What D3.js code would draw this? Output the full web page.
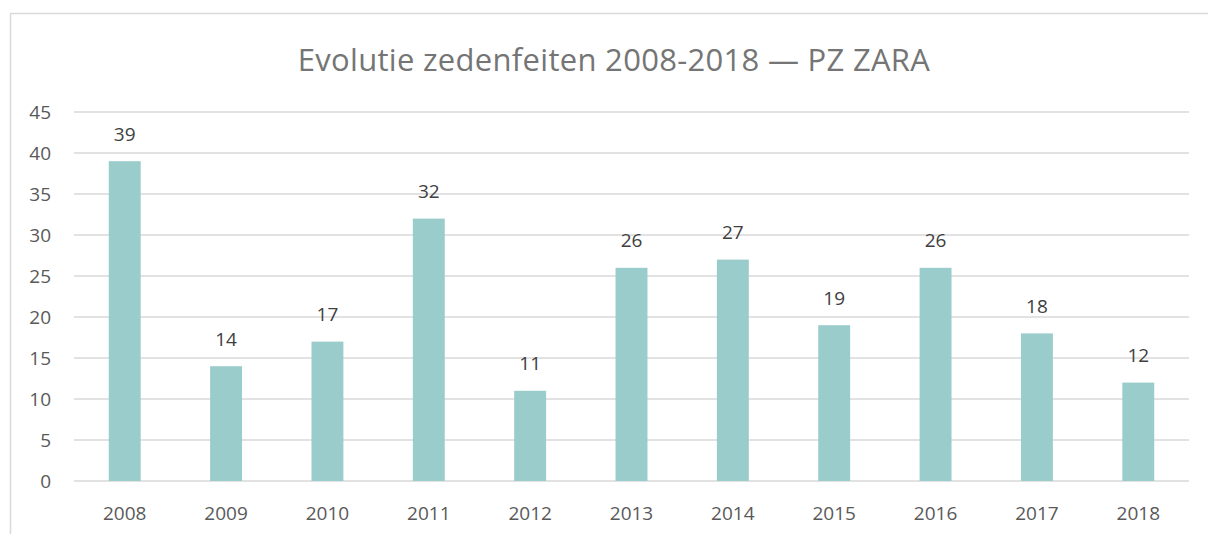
<!DOCTYPE html>
<style>
    body { margin: 0; background: #fff; }
    text { font-family: "Open Sans", sans-serif; }
    .tick text { font-size: 19px; fill: #595959; }
    .value { font-size: 19px; fill: #404040; }
    .title { font-size: 31px; fill: #757575; letter-spacing: 0.3px; }
</style>
<svg width="1208" height="534"></svg>
<script src="https://d3js.org/d3.v7.min.js"></script>
<script>
    var years = ["2008", "2009", "2010", "2011", "2012", "2013", "2014", "2015", "2016", "2017", "2018"];
    var counts = [39, 14, 17, 32, 11, 26, 27, 19, 26, 18, 12];
    var yTicks = [0, 5, 10, 15, 20, 25, 30, 35, 40, 45];

    var svg = d3.select('svg');
    var plotLeft = 74, plotRight = 1189, plotTop = 112, plotBottom = 481;

    // chart frame
    svg.append('rect')
        .attr('x', 10.5).attr('y', 13.5)
        .attr('width', 1220).attr('height', 540)
        .attr('fill', 'none')
        .attr('stroke', '#d9d9d9')
        .attr('stroke-width', 1.5);

    var x = d3.scaleBand().domain(years).range([plotLeft, plotRight]).paddingInner(0.685).paddingOuter(0.343);
    var y = d3.scaleLinear().domain([0, 45]).range([plotBottom, plotTop]);

    // gridlines
    svg.append('g').selectAll('line')
        .data(yTicks)
        .enter().append('line')
        .attr('x1', plotLeft).attr('x2', plotRight)
        .attr('y1', function(d) { return y(d); })
        .attr('y2', function(d) { return y(d); })
        .attr('stroke', '#d9d9d9')
        .attr('stroke-width', 1.5);

    var yAxis = svg.append('g')
        .attr('transform', 'translate(' + (plotLeft - 23) + ',0)')
        .call(d3.axisLeft(y).tickValues(yTicks).tickSize(0).tickPadding(0));
    yAxis.select('.domain').remove();
    yAxis.selectAll('text').attr('dy', '0.35em');

    var xAxis = svg.append('g')
        .attr('transform', 'translate(0,' + (plotBottom + 32) + ')')
        .call(d3.axisBottom(x).tickSize(0).tickPadding(0));
    xAxis.select('.domain').remove();
    xAxis.selectAll('text').attr('dy', '0.35em');

    svg.append('g').selectAll('rect')
        .data(counts)
        .enter().append('rect')
        .attr('x', function(d, i) { return x(years[i]); })
        .attr('y', function(d) { return y(d); })
        .attr('width', x.bandwidth())
        .attr('height', function(d) { return y(0) - y(d); })
        .attr('fill', '#9bcccc');

    svg.append('g').selectAll('text')
        .data(counts)
        .enter().append('text')
        .attr('class', 'value')
        .attr('text-anchor', 'middle')
        .attr('x', function(d, i) { return x(years[i]) + x.bandwidth() / 2; })
        .attr('y', function(d) { return y(d) - 27; })
        .attr('dy', '0.35em')
        .text(function(d) { return d; });

    svg.append('text')
        .attr('class', 'title')
        .attr('text-anchor', 'middle')
        .attr('x', 614)
        .attr('y', 71)
        .text('Evolutie zedenfeiten 2008-2018 — PZ ZARA');
</script>
